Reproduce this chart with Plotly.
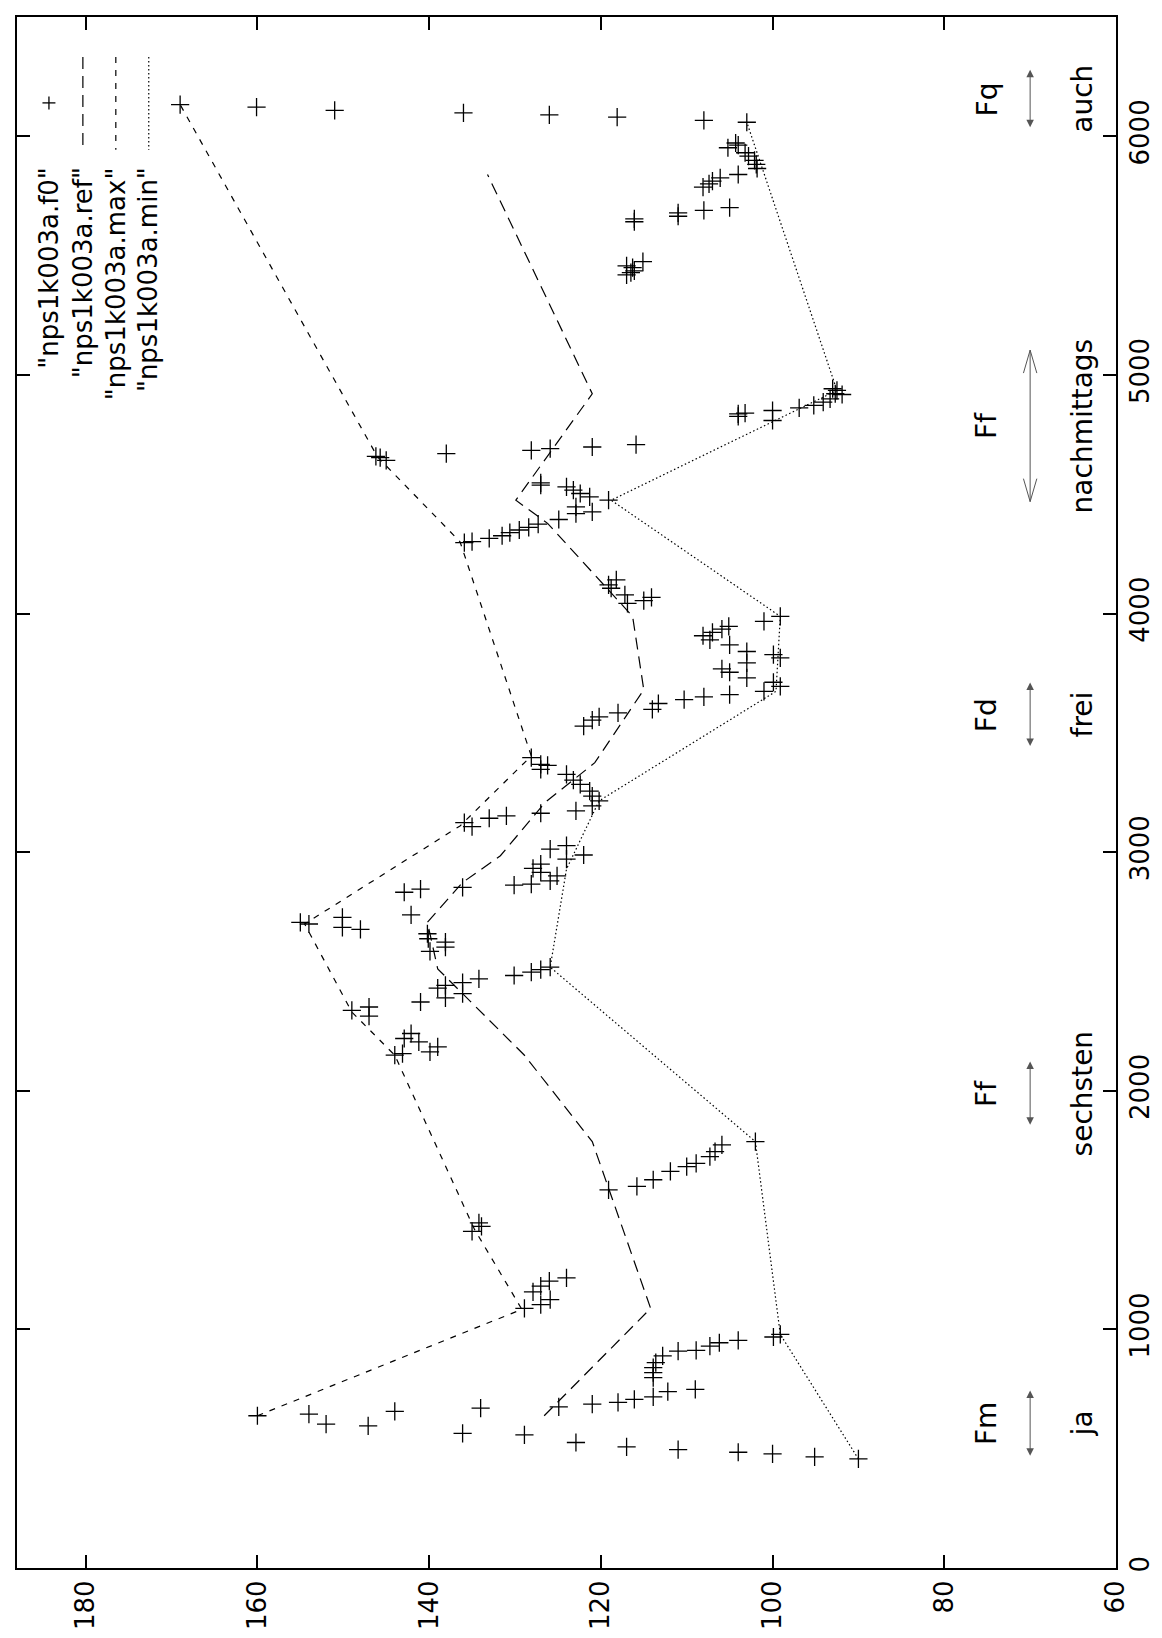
import plotly.graph_objects as go

# ---------------- data (time in ms, F0 in Hz) ----------------
f0_time = [457, 466, 478, 485, 496, 508, 526, 558, 564, 596, 603, 638, 645, 656, 670, 675, 687, 694,
           707, 717, 739, 749, 798, 819, 840, 861, 889, 909, 912, 930, 944, 954, 968, 979,
           1088, 1104, 1125, 1157, 1181, 1202, 1216, 1411, 1432, 1446,
           1585, 1599, 1627, 1662, 1682, 1696, 1724, 1745, 1773, 1787,
           2149, 2156, 2163, 2184, 2205, 2219, 2240, 2313, 2337, 2351, 2372, 2389, 2407, 2430,
           2442, 2453, 2469, 2483, 2497, 2508, 2518, 2584, 2602, 2623, 2637, 2658, 2676, 2685,
           2699, 2706, 2727, 2737,
           2832, 2845, 2852, 2862, 2866, 2880, 2901, 2915, 2932, 2950, 2971, 2988, 3013, 3027,
           3107, 3124, 3142, 3152, 3163, 3173, 3194, 3215, 3235, 3256, 3284, 3302, 3326, 3347,
           3364, 3368, 3396, 3528, 3553, 3567, 3584, 3598, 3623, 3639, 3651, 3660, 3674, 3695,
           3712, 3730, 3754, 3768, 3793, 3814, 3828, 3841, 3869, 3890,
           3907, 3921, 3935, 3946, 3967, 3988, 4043, 4054, 4068, 4078, 4106, 4120, 4141,
           4297, 4301, 4315, 4326, 4339, 4350, 4361, 4375, 4394, 4419, 4426, 4447, 4475, 4489,
           4503, 4517, 4531, 4538, 4548, 4642, 4653, 4659, 4670, 4684, 4691, 4698, 4708,
           4809, 4826, 4837, 4840, 4851, 4862, 4872, 4886, 4900, 4918, 4921, 4935, 4942,
           5419, 5429, 5436, 5450, 5457, 5475, 5642, 5654, 5665, 5679, 5690, 5701,
           5787, 5801, 5812, 5826, 5840, 5865, 5882, 5899, 5917, 5931, 5952, 5963, 5972,
           6059, 6067, 6080, 6090, 6098, 6109, 6122, 6133]
f0_hz = [90.0, 95.1, 100.0, 104.0, 111.0, 117.0, 122.9, 128.9, 136.1, 147.1, 152.0, 160.0, 154.0, 144.0,
         134.0, 124.9, 121.0, 118.0, 116.1, 113.9, 112.2, 109.0, 113.9, 113.9, 113.9, 113.6, 112.8,
         111.0, 108.9, 107.3, 106.2, 104.0, 99.9, 99.1,
         128.9, 127.0, 125.9, 127.9, 127.0, 126.0, 124.0, 135.0, 133.9, 134.2,
         119.1, 115.8, 113.9, 111.9, 110.0, 108.9, 107.3, 106.7, 105.9, 102.0,
         144.0, 143.1, 139.9, 139.0, 141.2, 142.9, 142.1, 147.0, 149.0, 147.0, 141.0, 138.1, 136.1,
         139.0, 138.1, 136.1, 134.2, 130.1, 128.1, 127.0, 125.9, 139.9, 138.1, 138.1, 140.1, 140.2,
         148.0, 150.1, 154.0, 155.0, 150.1, 142.1,
         142.9, 141.0, 136.1, 130.1, 128.1, 125.9, 125.1, 127.0, 127.9, 127.0, 124.0, 122.0, 125.9,
         124.0, 135.0, 135.9, 133.0, 131.0, 127.0, 122.9, 121.0, 120.2, 121.0, 121.3, 122.4, 123.2,
         124.0, 127.0, 126.2, 127.0, 128.1, 122.0, 121.0, 120.2, 118.0, 114.0, 113.3, 110.3, 108.0,
         105.0, 101.0, 99.1, 99.9, 103.0, 105.0, 105.9, 103.0, 99.1, 99.9, 103.0, 105.0, 107.3,
         108.1, 107.0, 105.9, 105.1, 101.0, 99.1, 116.9, 115.0, 114.1, 117.2, 118.8, 119.1, 118.2,
         135.9, 135.0, 133.0, 131.5, 130.6, 129.5, 128.4, 127.3, 124.9, 122.9, 121.0, 122.9, 119.1,
         121.3, 122.4, 123.2, 124.0, 127.0, 127.0, 145.0, 145.7, 146.2, 138.0, 128.1, 125.9, 121.0,
         115.9, 100.0, 104.0, 104.0, 103.2, 100.0, 96.9, 95.2, 94.1, 93.3, 91.9, 92.7, 92.5, 93.0,
         117.0, 116.5, 116.1, 116.3, 117.0, 115.1, 116.1, 116.1, 111.0, 111.0, 108.0, 105.0,
         108.1, 107.4, 107.0, 106.1, 104.0, 101.8, 101.9, 102.1, 102.8, 103.2, 105.2, 104.0, 104.3,
         103.0, 108.0, 118.1, 126.0, 136.0, 151.0, 160.1, 169.0]

ref_time = [638, 1088, 1787, 2149, 2511, 2706, 2873, 2985, 3208, 3375, 3681, 3988, 4378, 4475, 4921, 5840]
ref_hz = [126.6, 114.2, 121.0, 128.9, 139.0, 140.2, 136.1, 131.7, 126.5, 120.7, 115.0, 116.3, 126.2, 129.9, 121.0, 133.2]

max_time = [638, 1084, 1418, 2149, 2330, 2699, 3110, 3403, 4301, 4656, 6133]
max_hz = [160.0, 129.2, 134.7, 144.0, 149.0, 154.5, 136.4, 128.1, 136.4, 146.0, 169.0]

min_time = [457, 979, 1787, 2518, 2929, 3215, 3674, 3988, 4475, 4935, 6059]
min_hz = [90.0, 99.1, 102.0, 125.9, 124.0, 120.2, 99.6, 99.1, 118.8, 92.5, 103.0]

# word segments: accent label, word, arrow start, arrow end (ms)
seg_accent = ["Fm", "Ff", "Fd", "Ff", "Fq"]
seg_word = ["ja", "sechsten", "frei", "nachmittags", "auch"]
seg_start = [464, 1851, 3439, 4469, 6032]
seg_end = [744, 2123, 3711, 5104, 6279]

series_names = ['"nps1k003a.f0"', '"nps1k003a.ref"', '"nps1k003a.max"', '"nps1k003a.min"']

f0_ticks = [60, 80, 100, 120, 140, 160, 180]
time_ticks = [0, 1000, 2000, 3000, 4000, 5000, 6000]

# ---------------- styling / layout ----------------
W, H = 1162, 1638
ML, MR, MT, MB = 7, 54, 7, 78
PW, PH = W - ML - MR, H - MT - MB
FONT = "DejaVu Sans"
FS = 26
FS_ANN = 28
X_RANGE = [188, 60]
Y_RANGE = [0, 6500]
HZ_PER_PX = (X_RANGE[0] - X_RANGE[1]) / PW
MS_PER_PX = (Y_RANGE[1] - Y_RANGE[0]) / PH


def px_x(px):
    return (px - ML) / PW


def px_y(py):
    return (H - MB - py) / PH


dash_ref = "12px,7px"
dash_max = "6px,7px"
dash_min = "1.5px,2.5px"
ARROW_COLOR = "#555555"

fig = go.Figure()
fig.add_trace(go.Scatter(x=f0_hz, y=f0_time, mode="markers", name=series_names[0],
                         marker=dict(symbol="cross-thin", size=13, color="black",
                                     line=dict(width=1.3, color="black"))))
fig.add_trace(go.Scatter(x=ref_hz, y=ref_time, mode="lines", name=series_names[1],
                         line=dict(color="black", width=1.2, dash=dash_ref)))
fig.add_trace(go.Scatter(x=max_hz, y=max_time, mode="lines", name=series_names[2],
                         line=dict(color="black", width=1.2, dash=dash_max)))
fig.add_trace(go.Scatter(x=min_hz, y=min_time, mode="lines", name=series_names[3],
                         line=dict(color="black", width=1.2, dash=dash_min)))

annotations = []
shapes = []

# word annotations (rotated)
X_ACCENT, X_ARROW, X_WORD = 75.0, 70.0, 63.9
for acc, word, t0, t1 in zip(seg_accent, seg_word, seg_start, seg_end):
    mid = (t0 + t1) / 2
    annotations.append(dict(x=X_ACCENT, y=mid, xref="x", yref="y", text=acc, showarrow=False,
                            textangle=-90, font=dict(family=FONT, size=FS_ANN, color="black"),
                            xanchor="center", yanchor="middle"))
    annotations.append(dict(x=X_WORD, y=mid, xref="x", yref="y", text=word, showarrow=False,
                            textangle=-90, font=dict(family=FONT, size=FS_ANN, color="black"),
                            xanchor="center", yanchor="middle"))
    big = (t1 - t0) > 400
    if big:
        # shaft
        shapes.append(dict(type="line", xref="x", yref="y", x0=X_ARROW, x1=X_ARROW, y0=t0, y1=t1,
                           line=dict(color=ARROW_COLOR, width=1)))
        # open V heads at both ends
        hw, hl = 6.7 * HZ_PER_PX, 23 * MS_PER_PX
        for tip, sgn in ((t1, -1), (t0, 1)):
            path = "M {},{} L {},{} L {},{}".format(X_ARROW - hw, tip + sgn * hl, X_ARROW, tip,
                                                     X_ARROW + hw, tip + sgn * hl)
            shapes.append(dict(type="path", xref="x", yref="y", path=path,
                               line=dict(color=ARROW_COLOR, width=1)))
    else:
        annotations.append(dict(x=X_ARROW, y=t1, ax=X_ARROW, ay=t0, xref="x", yref="y",
                                axref="x", ayref="y", text="", showarrow=True,
                                arrowside="end+start", arrowcolor=ARROW_COLOR, arrowwidth=1,
                                arrowhead=2, startarrowhead=2,
                                arrowsize=1.5, startarrowsize=1.5,
                                standoff=0, startstandoff=0))

# legend (rotated, top-left)
leg_x = [39, 73, 106, 139]
leg_dash = [None, dash_ref, dash_max, dash_min]
for i, name in enumerate(series_names):
    xp = px_x(leg_x[i])
    annotations.append(dict(x=xp, y=px_y(155), xref="paper", yref="paper", text=name,
                            showarrow=False, textangle=-90,
                            font=dict(family=FONT, size=FS, color="black"),
                            xanchor="center", yanchor="top"))
    if leg_dash[i] is None:
        shapes.append(dict(type="line", xref="paper", yref="paper",
                           x0=px_x(leg_x[i] - 6.5), x1=px_x(leg_x[i] + 6.5),
                           y0=px_y(93), y1=px_y(93), line=dict(color="black", width=1.3)))
        shapes.append(dict(type="line", xref="paper", yref="paper",
                           x0=xp, x1=xp, y0=px_y(86.5), y1=px_y(99.5),
                           line=dict(color="black", width=1.3)))
    else:
        shapes.append(dict(type="line", xref="paper", yref="paper", x0=xp, x1=xp,
                           y0=px_y(47), y1=px_y(140),
                           line=dict(color="black", width=1.2, dash=leg_dash[i])))

axis_common = dict(showgrid=False, zeroline=False, showline=True, linecolor="black",
                   linewidth=2, mirror="ticks", ticks="inside", ticklen=13, tickwidth=2,
                   tickcolor="black", tickangle=-90,
                   tickfont=dict(family=FONT, size=FS, color="black"))

fig.update_layout(
    width=W, height=H, margin=dict(l=ML, r=MR, t=MT, b=MB, pad=0),
    paper_bgcolor="white", plot_bgcolor="white", showlegend=False,
    xaxis=dict(range=X_RANGE, tickvals=f0_ticks, **axis_common),
    yaxis=dict(range=Y_RANGE, tickvals=time_ticks, side="right", **axis_common),
    annotations=annotations, shapes=shapes,
)

fig.write_html("out.html")
